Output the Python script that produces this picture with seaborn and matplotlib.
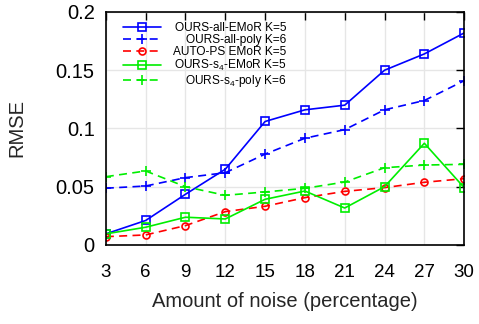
import matplotlib
matplotlib.use("Agg")
import matplotlib.pyplot as plt
import seaborn as sns
import pandas as pd

noise = [3, 6, 9, 12, 15, 18, 21, 24, 27, 30]
ours_all_emor = [0.0095, 0.021, 0.0435, 0.065, 0.106, 0.116, 0.120, 0.150, 0.164, 0.182]
ours_all_poly = [0.0487, 0.0506, 0.0578, 0.062, 0.078, 0.0916, 0.099, 0.116, 0.124, 0.141]
auto_ps_emor = [0.0071, 0.0086, 0.0166, 0.0286, 0.0332, 0.0406, 0.046, 0.0492, 0.0538, 0.0569]
ours_s4_emor = [0.0095, 0.0152, 0.0238, 0.0223, 0.0392, 0.0463, 0.0317, 0.050, 0.0873, 0.0492]
ours_s4_poly = [0.0586, 0.0635, 0.050, 0.0426, 0.0455, 0.0486, 0.054, 0.0663, 0.0686, 0.0692]

labels = ["OURS-all-EMoR K=5", "OURS-all-poly K=6", "AUTO-PS EMoR K=5",
          "OURS-s$_4$-EMoR K=5", "OURS-s$_4$-poly K=6"]
series = [ours_all_emor, ours_all_poly, auto_ps_emor, ours_s4_emor, ours_s4_poly]
colors = ["#0000ff", "#0000ff", "#ff0000", "#00ee00", "#00ee00"]
markers = ["s", "+", "o", "s", "+"]
dashed = [False, True, True, False, True]

yticks = [0, 0.05, 0.1, 0.15, 0.2]
ytick_labels = ["0", "0.05", "0.1", "0.15", "0.2"]

sns.set_style("white")
plt.rcParams["font.family"] = ["Liberation Sans", "DejaVu Sans"]
plt.rcParams["mathtext.fontset"] = "custom"
plt.rcParams["mathtext.rm"] = "Liberation Sans"
plt.rcParams["mathtext.default"] = "rm"

fig = plt.figure(figsize=(4.79, 3.24), dpi=100)
ax = fig.add_axes([0.221, 0.244, 0.748, 0.719])

msize = {"s": 5.3, "+": 6.5, "o": 5.0}
for vals, lab, c, m, d in zip(series, labels, colors, markers, dashed):
    df = pd.DataFrame({"x": noise, "y": vals})
    kw = dict(color=c, marker=m, lw=1.2, markersize=msize[m],
              markerfacecolor="none", markeredgecolor=c, markeredgewidth=1.2)
    if d:
        kw["dashes"] = (4.8, 3.2)
    sns.lineplot(data=df, x="x", y="y", ax=ax, label=lab, **kw)

ax.set_xlim(3, 30)
ax.set_ylim(0, 0.2)
ax.set_xticks(noise)
ax.set_xticklabels([str(v) for v in noise])
ax.set_yticks(yticks)
ax.set_yticklabels(ytick_labels)
ax.grid(True, color="#e6e6e6", lw=1)
ax.set_axisbelow(True)
for s in ax.spines.values():
    s.set_color("black")
    s.set_linewidth(1.2)
ax.tick_params(direction="in", length=6, width=1, top=True, right=True,
               colors="black")
ax.tick_params(axis="x", labelsize=13.5, pad=14)
ax.tick_params(axis="y", labelsize=14.5, pad=8)
ax.set_xlabel("Amount of noise (percentage)", fontsize=14.5, labelpad=8)
ax.set_ylabel("RMSE", fontsize=14.5, labelpad=21)

leg = ax.legend(loc="upper left", bbox_to_anchor=(0.035, 0.977), frameon=False,
                fontsize=8.6, handlelength=3.2, labelspacing=0.0,
                handletextpad=1.0, borderaxespad=0)
fig.canvas.draw()
r = fig.canvas.get_renderer()
texts = leg.get_texts()
exts = [t.get_window_extent(r) for t in texts]
xr = max(e.x1 for e in exts)
inv = fig.transFigure.inverted()
for t, e in zip(texts, exts):
    t.set_alpha(0)
    fx, fy = inv.transform((xr, e.y0))
    fig.text(fx, fy, t.get_text(), ha="right", va="bottom", fontsize=8.6,
             color="black")

fig.savefig("out.png", dpi=100)
